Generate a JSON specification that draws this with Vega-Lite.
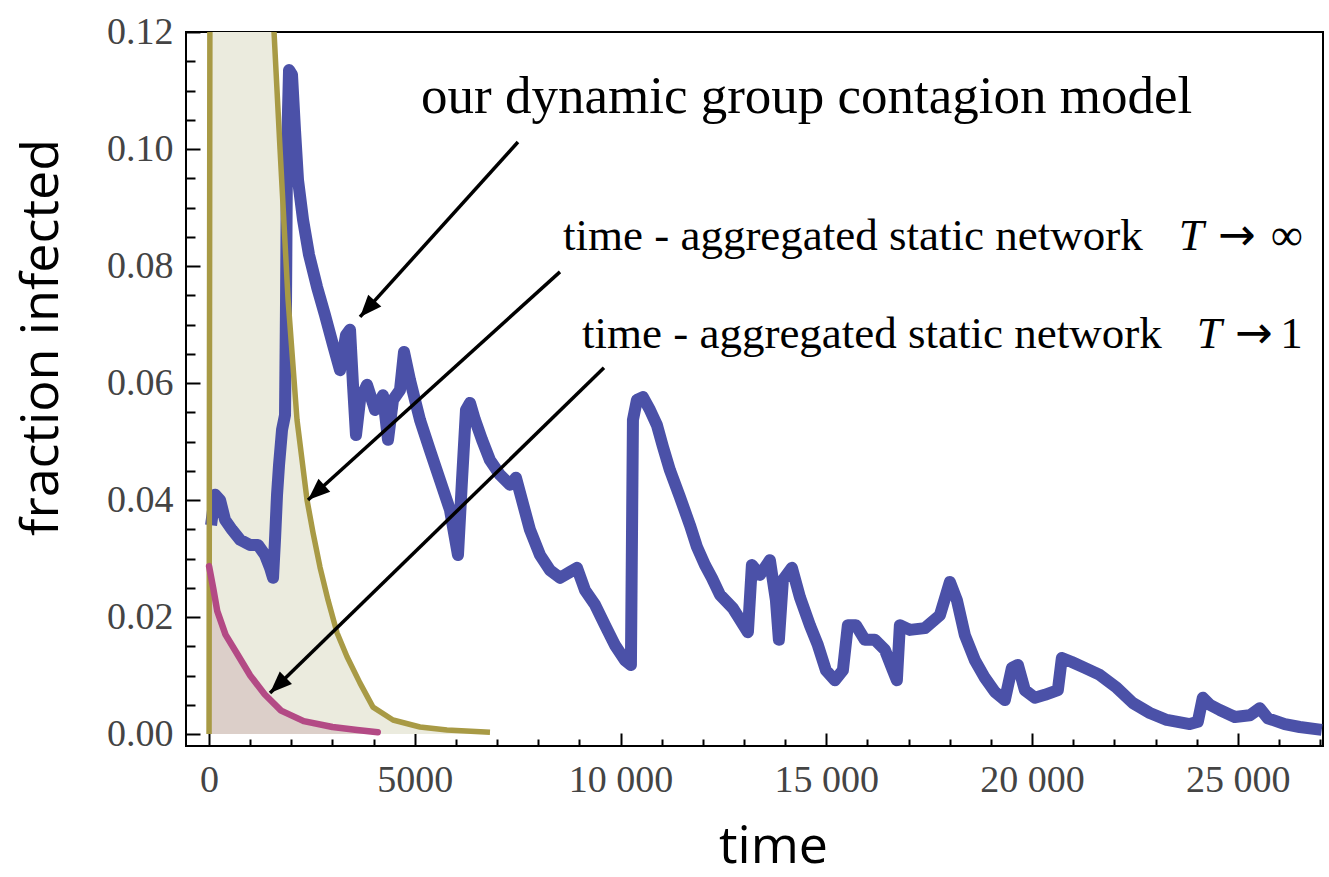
{
  "$schema": "https://vega.github.io/schema/vega-lite/v6.json",
  "width": 1137,
  "height": 714,
  "autosize": {"type": "none"},
  "padding": {"left": 186, "top": 32, "right": 6, "bottom": 131},
  "background": "white",
  "config": {
    "view": {"stroke": "black", "strokeWidth": 2},
    "axis": {"grid": false, "domain": false}
  },
  "datasets": {
    "blue": [
      {"x":49,"y":0.0357},{"x":146,"y":0.0409},{"x":267,"y":0.0400},{"x":389,"y":0.0366},{"x":559,"y":0.0349},{"x":753,"y":0.0332},{"x":996,"y":0.0323},{"x":1190,"y":0.0323},{"x":1361,"y":0.0306},{"x":1482,"y":0.0284},{"x":1555,"y":0.0267},{"x":1603,"y":0.0332},{"x":1652,"y":0.0409},{"x":1701,"y":0.0460},{"x":1774,"y":0.0520},{"x":1846,"y":0.0545},{"x":1871,"y":0.0742},{"x":1895,"y":0.0998},{"x":1944,"y":0.1135},{"x":2016,"y":0.1127},{"x":2089,"y":0.1032},{"x":2162,"y":0.0947},{"x":2284,"y":0.0879},{"x":2430,"y":0.0819},{"x":2624,"y":0.0764},{"x":2818,"y":0.0716},{"x":3013,"y":0.0665},{"x":3183,"y":0.0622},{"x":3328,"y":0.0682},{"x":3426,"y":0.0691},{"x":3498,"y":0.0597},{"x":3571,"y":0.0511},{"x":3669,"y":0.0571},{"x":3839,"y":0.0597},{"x":4033,"y":0.0554},{"x":4227,"y":0.0579},{"x":4349,"y":0.0503},{"x":4470,"y":0.0571},{"x":4640,"y":0.0588},{"x":4738,"y":0.0653},{"x":4883,"y":0.0605},{"x":5126,"y":0.0537},{"x":5369,"y":0.0485},{"x":5612,"y":0.0434},{"x":5855,"y":0.0383},{"x":6049,"y":0.0306},{"x":6147,"y":0.0434},{"x":6244,"y":0.0554},{"x":6341,"y":0.0566},{"x":6462,"y":0.0537},{"x":6633,"y":0.0503},{"x":6827,"y":0.0468},{"x":7070,"y":0.0443},{"x":7313,"y":0.0426},{"x":7459,"y":0.0438},{"x":7604,"y":0.0400},{"x":7799,"y":0.0349},{"x":8042,"y":0.0306},{"x":8285,"y":0.0280},{"x":8528,"y":0.0267},{"x":8771,"y":0.0277},{"x":8941,"y":0.0284},{"x":9135,"y":0.0246},{"x":9378,"y":0.0221},{"x":9621,"y":0.0186},{"x":9864,"y":0.0152},{"x":10107,"y":0.0126},{"x":10252,"y":0.0118},{"x":10301,"y":0.0537},{"x":10398,"y":0.0571},{"x":10544,"y":0.0576},{"x":10714,"y":0.0554},{"x":10884,"y":0.0528},{"x":11030,"y":0.0491},{"x":11200,"y":0.0451},{"x":11443,"y":0.0405},{"x":11686,"y":0.0357},{"x":11856,"y":0.0320},{"x":12050,"y":0.0289},{"x":12220,"y":0.0267},{"x":12415,"y":0.0238},{"x":12730,"y":0.0215},{"x":13095,"y":0.0174},{"x":13192,"y":0.0289},{"x":13386,"y":0.0272},{"x":13629,"y":0.0297},{"x":13775,"y":0.0229},{"x":13848,"y":0.0161},{"x":13945,"y":0.0263},{"x":14164,"y":0.0284},{"x":14358,"y":0.0234},{"x":14601,"y":0.0186},{"x":14795,"y":0.0152},{"x":14990,"y":0.0109},{"x":15209,"y":0.0092},{"x":15403,"y":0.0109},{"x":15524,"y":0.0186},{"x":15719,"y":0.0186},{"x":15937,"y":0.0161},{"x":16180,"y":0.0161},{"x":16423,"y":0.0144},{"x":16618,"y":0.0109},{"x":16715,"y":0.0092},{"x":16788,"y":0.0186},{"x":17031,"y":0.0178},{"x":17395,"y":0.0181},{"x":17760,"y":0.0203},{"x":18003,"y":0.0260},{"x":18173,"y":0.0229},{"x":18367,"y":0.0169},{"x":18610,"y":0.0126},{"x":18853,"y":0.0096},{"x":19096,"y":0.0072},{"x":19339,"y":0.0058},{"x":19509,"y":0.0113},{"x":19655,"y":0.0118},{"x":19825,"y":0.0075},{"x":20068,"y":0.0062},{"x":20311,"y":0.0067},{"x":20627,"y":0.0075},{"x":20724,"y":0.0130},{"x":20967,"y":0.0123},{"x":21282,"y":0.0113},{"x":21647,"y":0.0101},{"x":22060,"y":0.0079},{"x":22449,"y":0.0053},{"x":22862,"y":0.0036},{"x":23275,"y":0.0024},{"x":23833,"y":0.0017},{"x":24028,"y":0.0021},{"x":24149,"y":0.0062},{"x":24319,"y":0.0050},{"x":24562,"y":0.0041},{"x":24927,"y":0.0029},{"x":25291,"y":0.0032},{"x":25534,"y":0.0044},{"x":25728,"y":0.0027},{"x":26141,"y":0.0017},{"x":26505,"y":0.0012},{"x":27040,"y":0.0007}
    ],
    "yellow": [
      {"x":0,"y":0},{"x":20,"y":0.12},{"x":60,"y":0.2},{"x":800,"y":0.26},{"x":1400,"y":0.15},{"x":1579,"y":0.12},{"x":1725,"y":0.1},{"x":1919,"y":0.0744},{"x":2138,"y":0.0537},{"x":2381,"y":0.0400},{"x":2527,"y":0.0344},{"x":2697,"y":0.0285},{"x":2891,"y":0.0229},{"x":3110,"y":0.0173},{"x":3353,"y":0.0132},{"x":3669,"y":0.0087},{"x":3984,"y":0.0046},{"x":4470,"y":0.0024},{"x":5126,"y":0.0012},{"x":5782,"y":0.0007},{"x":6827,"y":0.0003}
    ],
    "pink": [
      {"x":0,"y":0.0287},{"x":100,"y":0.0250},{"x":200,"y":0.0210},{"x":400,"y":0.0170},{"x":700,"y":0.0135},{"x":1000,"y":0.0100},{"x":1350,"y":0.0068},{"x":1750,"y":0.0040},{"x":2300,"y":0.0022},{"x":3000,"y":0.0012},{"x":3600,"y":0.0007},{"x":4100,"y":0.0003}
    ],
    "arrow1": [{"x":7507,"y":0.1012,"x2":3669,"y2":0.0713}],
    "arrow2": [{"x":8528,"y":0.0790,"x2":2405,"y2":0.0400}],
    "arrow3": [{"x":9597,"y":0.0626,"x2":1482,"y2":0.0070}],
    "title1": [{"x":5151,"y":0.1062,"text":"our dynamic group contagion model"}],
    "labels": [
      {"x":8600,"y":0.0827,"text":"time - aggregated static network"},
      {"x":9062,"y":0.0660,"text":"time - aggregated static network"}
    ],
    "tees": [
      {"x":23566,"y":0.0827,"text":"T"},
      {"x":24003,"y":0.0660,"text":"T"}
    ],
    "arrows": [
      {"x":24514,"y":0.0827,"text":"→"},
      {"x":24927,"y":0.0660,"text":"→"}
    ],
    "limits": [
      {"x":26579,"y":0.0827,"text":"∞"},
      {"x":26579,"y":0.0660,"text":"1"}
    ]
  },
  "resolve": {"axis": {"x": "independent", "y": "independent"}},
  "encoding": {
    "x": {
      "field": "x", "type": "quantitative",
      "scale": {"domain": [-560, 27070], "nice": false, "zero": false},
      "axis": null
    },
    "y": {
      "field": "y", "type": "quantitative",
      "scale": {"domain": [-0.00205, 0.12], "nice": false, "zero": false},
      "axis": null
    }
  },
  "layer": [
    {
      "data": {"name": "yellow"},
      "mark": {"type": "area", "color": "#EBEBDE", "clip": true},
      "encoding": {
        "x": {
          "field": "x", "type": "quantitative", "title": "time",
          "scale": {"domain": [-560, 27070], "nice": false, "zero": false},
          "axis": {
            "orient": "bottom", "offset": -13, "tickSize": 13, "tickWidth": 2, "tickColor": "black",
            "values": [0, 5000, 10000, 15000, 20000, 25000],
            "labelExpr": "datum.value < 10000 ? format(datum.value, 'd') : replace(format(datum.value, ','), ',', ' ')",
            "labelFont": "Liberation Serif", "labelFontSize": 38, "labelColor": "#444",
            "labelPadding": 15, "labelOverlap": false,
            "titleFont": "Open Sans", "titleFontSize": 52, "titleFontWeight": "normal", "titleColor": "black",
            "titleX": 587, "titleY": 129, "titleBaseline": "alphabetic"
          }
        },
        "y": {
          "field": "y", "type": "quantitative", "title": "fraction infected",
          "scale": {"domain": [-0.00205, 0.12], "nice": false, "zero": false},
          "axis": {
            "orient": "left", "offset": -14, "tickSize": 14, "tickWidth": 2, "tickColor": "black",
            "values": [0, 0.02, 0.04, 0.06, 0.08, 0.1, 0.12],
            "format": ".2f",
            "labelFont": "Liberation Serif", "labelFontSize": 38, "labelColor": "#444",
            "labelPadding": 13, "labelOverlap": false,
            "titleFont": "Open Sans", "titleFontSize": 52, "titleFontWeight": "normal", "titleColor": "black",
            "titleX": -143, "titleY": 305, "titleBaseline": "alphabetic"
          }
        },
        "y2": {"datum": 0}
      }
    },
    {
      "data": {"name": "pink"},
      "mark": {"type": "area", "color": "#DCCFC9", "clip": true},
      "encoding": {
        "x": {
          "field": "x", "type": "quantitative",
          "axis": {
            "orient": "bottom", "offset": -7, "tickSize": 7, "tickWidth": 2, "tickColor": "black",
            "values": [1000,2000,3000,4000,6000,7000,8000,9000,11000,12000,13000,14000,16000,17000,18000,19000,21000,22000,23000,24000,26000,27000],
            "labels": false, "title": null
          }
        },
        "y": {
          "field": "y", "type": "quantitative",
          "axis": {
            "orient": "left", "offset": -9, "tickSize": 9, "tickWidth": 2, "tickColor": "black",
            "values": [0.005,0.01,0.015,0.025,0.03,0.035,0.045,0.05,0.055,0.065,0.07,0.075,0.085,0.09,0.095,0.105,0.11,0.115],
            "labels": false, "title": null
          }
        },
        "y2": {"datum": 0}
      }
    },
    {"data": {"name": "blue"}, "mark": {"type": "line", "color": "#4B51A8", "strokeWidth": 12, "strokeJoin": "round", "clip": true}},
    {"data": {"name": "yellow"}, "mark": {"type": "line", "color": "#A89A45", "strokeWidth": 5.5, "strokeJoin": "round", "clip": true}},
    {"data": {"name": "pink"}, "mark": {"type": "line", "color": "#B34A85", "strokeWidth": 6.5, "strokeJoin": "round", "strokeCap": "round", "clip": true}},
    {"data": {"name": "arrow1"}, "mark": {"type": "rule", "color": "black", "strokeWidth": 3.5}, "encoding": {"x2": {"field": "x2"}, "y2": {"field": "y2"}}},
    {"data": {"name": "arrow2"}, "mark": {"type": "rule", "color": "black", "strokeWidth": 3.5}, "encoding": {"x2": {"field": "x2"}, "y2": {"field": "y2"}}},
    {"data": {"name": "arrow3"}, "mark": {"type": "rule", "color": "black", "strokeWidth": 3.5}, "encoding": {"x2": {"field": "x2"}, "y2": {"field": "y2"}}},
    {"data": {"name": "arrow1"}, "mark": {"type": "point", "shape": "M0,0L-0.8,2L0.8,2Z", "filled": true, "size": 484, "angle": 222, "color": "black", "opacity": 1}, "encoding": {"x": {"field": "x2", "type": "quantitative"}, "y": {"field": "y2", "type": "quantitative"}}},
    {"data": {"name": "arrow2"}, "mark": {"type": "point", "shape": "M0,0L-0.8,2L0.8,2Z", "filled": true, "size": 484, "angle": 228, "color": "black", "opacity": 1}, "encoding": {"x": {"field": "x2", "type": "quantitative"}, "y": {"field": "y2", "type": "quantitative"}}},
    {"data": {"name": "arrow3"}, "mark": {"type": "point", "shape": "M0,0L-0.8,2L0.8,2Z", "filled": true, "size": 484, "angle": 226, "color": "black", "opacity": 1}, "encoding": {"x": {"field": "x2", "type": "quantitative"}, "y": {"field": "y2", "type": "quantitative"}}},
    {"data": {"name": "title1"}, "mark": {"type": "text", "font": "Liberation Serif", "fontSize": 53, "align": "left", "baseline": "alphabetic", "color": "black"}, "encoding": {"text": {"field": "text"}}},
    {"data": {"name": "labels"}, "mark": {"type": "text", "font": "Liberation Serif", "fontSize": 45, "align": "left", "baseline": "alphabetic", "color": "black"}, "encoding": {"text": {"field": "text"}}},
    {"data": {"name": "tees"}, "mark": {"type": "text", "font": "Liberation Serif", "fontSize": 45, "fontStyle": "italic", "align": "left", "baseline": "alphabetic", "color": "black"}, "encoding": {"text": {"field": "text"}}},
    {"data": {"name": "arrows"}, "mark": {"type": "text", "font": "DejaVu Sans", "fontSize": 45, "align": "left", "baseline": "alphabetic", "color": "black"}, "encoding": {"text": {"field": "text"}}},
    {"data": {"name": "limits"}, "mark": {"type": "text", "font": "Liberation Serif", "fontSize": 45, "align": "right", "baseline": "alphabetic", "color": "black"}, "encoding": {"text": {"field": "text"}}}
  ]
}
